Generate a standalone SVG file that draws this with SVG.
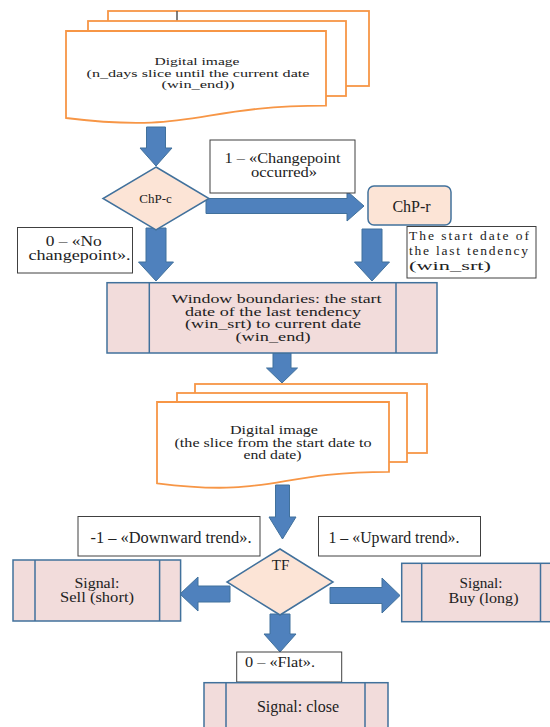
<svg xmlns="http://www.w3.org/2000/svg" width="550" height="727" viewBox="0 0 550 727">
<style>
.doc{fill:#fff;stroke:#F79646;stroke-width:1.8}
.proc{fill:#F2DCDB;stroke:#41719C;stroke-width:1.5}
.dec{fill:#FCE4D6;stroke:#41719C;stroke-width:1.5}
.lbl{fill:#fff;stroke:#404040;stroke-width:1}
.arr{fill:#4F81BD;stroke:#41719C;stroke-width:1}
text{font-family:"Liberation Serif",serif;fill:#222;text-anchor:middle}
.l{text-anchor:start}
</style>
<rect width="550" height="727" fill="#fff"/>
<g id="connectors">
<path class="arr" d="M146.5,127H165.5V148H172L156,166L140,148H146.5Z"/>
<path class="arr" d="M206,198.5H347V191L364,206L347,221V213.5H206Z"/>
<path class="arr" d="M146,228H166V262H173.5L156,281L138.5,262H146Z"/>
<path class="arr" d="M362,229H382V262H389.5L372,281L354.5,262H362Z"/>
<path class="arr" d="M273,353H291V368H297.5L282,383L266.5,368H273Z"/>
<path class="arr" d="M275.5,485H289.5V517H296L282.5,539L269,517H275.5Z"/>
<path class="arr" d="M230,586H198V577L180,594L198,611V602H230Z"/>
<path class="arr" d="M330,587.5H382V578L400,595.5L382,613V603.5H330Z"/>
<path class="arr" d="M270,614H290V634H296L280,652L264,634H270Z"/>
</g>
<g id="doc1">
<rect class="doc" x="108" y="11" width="261" height="75"/>
<line x1="177" y1="11" x2="177" y2="23" stroke="#555" stroke-width="1.5"/>
<rect class="doc" x="88" y="21" width="258" height="75"/>
<path class="doc" d="M66,31H326V105.6C196,105.6 196,134 66,118Z"/>
<text x="197" y="65" font-size="11" textLength="85" lengthAdjust="spacingAndGlyphs">Digital image</text>
<text x="198" y="76.5" font-size="11" textLength="223" lengthAdjust="spacingAndGlyphs">(n_days slice until the current date</text>
<text x="198" y="88" font-size="11" textLength="73" lengthAdjust="spacingAndGlyphs">(win_end))</text>
</g>
<g id="chp-c">
<path class="dec" d="M156,167L209,198.5L156,230L103,198.5Z"/>
<text x="155.5" y="203" font-size="13">ChP-c</text>
</g>
<g id="label-changepoint">
<rect class="lbl" x="210" y="140" width="145" height="53"/>
<text x="282.5" y="163" font-size="14" textLength="116" lengthAdjust="spacingAndGlyphs">1 – «Changepoint</text>
<text x="284" y="177" font-size="14" textLength="66" lengthAdjust="spacingAndGlyphs">occurred»</text>
</g>
<g id="chp-r">
<rect class="dec" x="368" y="186" width="83" height="39" rx="6"/>
<text x="411.5" y="211.5" font-size="16">ChP-r</text>
</g>
<g id="label-nochange">
<rect class="lbl" x="17.5" y="227.5" width="115" height="45.5"/>
<text x="73.7" y="245.5" font-size="14.5" textLength="56" lengthAdjust="spacingAndGlyphs">0 – «No</text>
<text x="79.5" y="260" font-size="14.5" textLength="102" lengthAdjust="spacingAndGlyphs">changepoint».</text>
</g>
<g id="label-start">
<rect class="lbl" x="407" y="226.5" width="129" height="51.5"/>
<text class="l" x="409" y="240" font-size="13.5" textLength="120" lengthAdjust="spacing">The start date of</text>
<text class="l" x="409" y="255" font-size="13.5" textLength="119" lengthAdjust="spacing">the last tendency</text>
<text class="l" x="409" y="269.5" font-size="13.5" textLength="82" lengthAdjust="spacingAndGlyphs">(win_srt)</text>
</g>
<g id="window">
<rect class="proc" x="107" y="282.7" width="330" height="70.3"/>
<line class="proc" x1="149.3" y1="282.7" x2="149.3" y2="353"/>
<line class="proc" x1="396" y1="282.7" x2="396" y2="353"/>
<text x="276.5" y="303" font-size="12.5" textLength="210" lengthAdjust="spacingAndGlyphs">Window boundaries: the start</text>
<text x="273" y="315.5" font-size="12.5" textLength="176" lengthAdjust="spacingAndGlyphs">date of the last tendency</text>
<text x="273" y="328" font-size="12.5" textLength="176" lengthAdjust="spacingAndGlyphs">(win_srt) to current date</text>
<text x="273" y="340.5" font-size="12.5" textLength="75" lengthAdjust="spacingAndGlyphs">(win_end)</text>
</g>
<g id="doc2">
<rect class="doc" x="195" y="384" width="232" height="69"/>
<rect class="doc" x="177" y="393" width="230" height="69"/>
<path class="doc" d="M157,402H389V471.8C273,471.8 273,498 157,483.3Z"/>
<text x="274" y="434" font-size="12.5" textLength="88" lengthAdjust="spacingAndGlyphs">Digital image</text>
<text x="273" y="446.7" font-size="12.5" textLength="197" lengthAdjust="spacingAndGlyphs">(the slice from the start date to</text>
<text x="272.5" y="459.2" font-size="12.5" textLength="58" lengthAdjust="spacingAndGlyphs">end date)</text>
</g>
<g id="label-down">
<rect class="lbl" x="78" y="516.5" width="182" height="39.5"/>
<text x="171" y="543" font-size="16" textLength="161" lengthAdjust="spacingAndGlyphs">-1 – «Downward trend».</text>
</g>
<g id="label-up">
<rect class="lbl" x="318.5" y="516.5" width="162" height="39.5"/>
<text x="394" y="543" font-size="16" textLength="131" lengthAdjust="spacingAndGlyphs">1 – «Upward trend».</text>
</g>
<g id="tf">
<path class="dec" d="M280,549L333,582L280,615L227,582Z"/>
<text x="280.5" y="570" font-size="15">TF</text>
</g>
<g id="sell">
<rect class="proc" x="13" y="560" width="167.6" height="61"/>
<line class="proc" x1="35" y1="560" x2="35" y2="621"/>
<line class="proc" x1="159.6" y1="560" x2="159.6" y2="621"/>
<text x="97" y="588" font-size="14" textLength="45" lengthAdjust="spacingAndGlyphs">Signal:</text>
<text x="97" y="602" font-size="14" textLength="74" lengthAdjust="spacingAndGlyphs">Sell (short)</text>
</g>
<g id="buy">
<rect class="proc" x="401.7" y="563.3" width="160" height="58.4"/>
<line class="proc" x1="421.7" y1="563.3" x2="421.7" y2="621.7"/>
<line class="proc" x1="540.5" y1="563.3" x2="540.5" y2="621.7"/>
<text x="481" y="588" font-size="14" textLength="43" lengthAdjust="spacingAndGlyphs">Signal:</text>
<text x="483.5" y="603" font-size="14" textLength="70" lengthAdjust="spacingAndGlyphs">Buy (long)</text>
</g>
<g id="label-flat">
<rect class="lbl" x="236.7" y="652" width="105" height="30"/>
<text class="l" x="245" y="667" font-size="15" textLength="70" lengthAdjust="spacingAndGlyphs">0 – «Flat».</text>
</g>
<g id="close">
<rect class="proc" x="204" y="682.7" width="184" height="60"/>
<line class="proc" x1="226" y1="682.7" x2="226" y2="742.7"/>
<line class="proc" x1="365" y1="682.7" x2="365" y2="742.7"/>
<text x="298" y="712" font-size="16">Signal: close</text>
</g>
</svg>
